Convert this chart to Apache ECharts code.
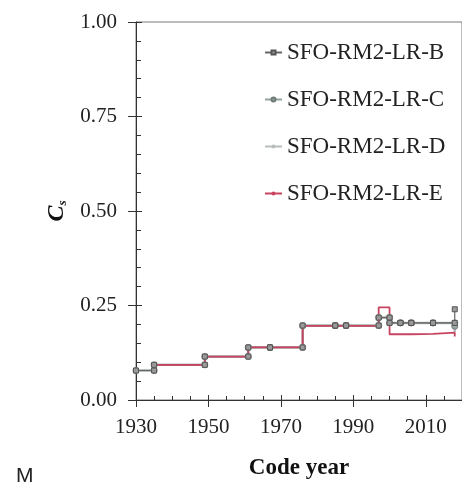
<!DOCTYPE html>
<html>
<head>
<meta charset="utf-8">
<script src="https://cdn.jsdelivr.net/npm/echarts@6/dist/echarts.min.js"></script>
<style>
  html, body { margin: 0; padding: 0; background: #fff; }
  #chart { width: 462px; height: 485px; }
</style>
</head>
<body>
<div id="chart"></div>
<script>
// code years where the coefficient changes
const codeYears = [1930, 1935, 1949, 1961, 1967, 1976, 1985, 1988, 1997, 2000, 2003, 2006, 2012, 2018];
// Cs values
const csB = [0.078, 0.093, 0.115, 0.139, 0.139, 0.197, 0.197, 0.197, 0.218, 0.204, 0.204, 0.204, 0.204, 0.240];
const csC = [0.078, 0.093, 0.115, 0.139, 0.139, 0.197, 0.197, 0.197, 0.218, 0.204, 0.204, 0.204, 0.204, 0.195];
const csD = [0.078, 0.093, 0.115, 0.139, 0.139, 0.197, 0.197, 0.197, 0.218, 0.204, 0.204, 0.204, 0.204, 0.179];
const csE = [null, 0.093, 0.115, 0.139, 0.139, 0.196, 0.196, 0.196, 0.245, 0.174, 0.174, 0.175, 0.178, 0.168];
const seriesNames = ["SFO-RM2-LR-B", "SFO-RM2-LR-C", "SFO-RM2-LR-D", "SFO-RM2-LR-E"];

const serif = "Liberation Serif";

// step line: at each code year keep the old value then jump to the new one
function stepPoints(values) {
  const pts = [];
  let prev = null;
  codeYears.forEach((yr, i) => {
    const v = values[i];
    if (v == null) return;
    if (prev != null) pts.push([yr, prev]);
    pts.push([yr, v]);
    prev = v;
  });
  return pts;
}

const chart = echarts.init(document.getElementById("chart"));

const tickLabel = { color: "#222", fontFamily: serif, fontSize: 21 };

chart.setOption({
  backgroundColor: "#fff",
  animation: false,
  title: {
    text: "M",
    left: 11,
    top: 461,
    textStyle: { fontFamily: "Liberation Sans", fontWeight: "normal", fontSize: 21, color: "#222" },
  },
  grid: {
    left: 136,
    right: -4,
    top: 22,
    bottom: 83,
    show: true,
    borderColor: "#7a7a7a",
    borderWidth: 1,
  },
  legend: {
    data: seriesNames,
    orient: "vertical",
    left: 264,
    top: 41,
    padding: 0,
    itemGap: 24,
    itemWidth: 17,
    itemHeight: 5,
    textStyle: { fontFamily: serif, fontSize: 23, color: "#222" },
  },
  xAxis: [
    {
      type: "value",
      min: 1930,
      max: 2020,
      interval: 20,
      name: "Code year",
      nameLocation: "middle",
      nameGap: 57,
      nameTextStyle: { fontFamily: serif, fontSize: 23, fontWeight: "bold", color: "#111" },
      axisLine: { lineStyle: { color: "#333", width: 1 } },
      axisTick: { show: true, inside: false, length: 7, lineStyle: { color: "#333" } },
      axisLabel: { ...tickLabel, margin: 17, showMaxLabel: false, formatter: (v) => String(v) },
      splitLine: { show: false },
    },
    {
      type: "value",
      min: 1930,
      max: 2020,
      interval: 20,
      position: "bottom",
      axisLine: { show: false },
      axisTick: { show: true, inside: true, length: 5, lineStyle: { color: "#333" } },
      minorTick: { show: true, splitNumber: 4, length: 4, lineStyle: { color: "#333" } },
      axisLabel: { show: false },
      splitLine: { show: false },
    },
  ],
  yAxis: [
    {
      type: "value",
      min: 0,
      max: 1,
      interval: 0.25,
      name: "{c|C}{s|s}",
      nameLocation: "middle",
      nameRotate: 90,
      nameGap: 58,
      nameTextStyle: {
        rich: {
          c: { fontFamily: serif, fontSize: 24, fontStyle: "italic", fontWeight: "bold", color: "#111" },
          s: { fontFamily: serif, fontSize: 13, fontStyle: "italic", fontWeight: "bold", color: "#111", verticalAlign: "bottom", padding: [12, 0, 0, 0] },
        },
      },
      axisLine: { show: true, lineStyle: { color: "#333", width: 1 } },
      axisTick: { show: true, inside: false, length: 8, lineStyle: { color: "#333" } },
      axisLabel: { ...tickLabel, margin: 19, formatter: (v) => v.toFixed(2) },
      splitLine: { show: false },
    },
    {
      type: "value",
      min: 0,
      max: 1,
      interval: 0.25,
      position: "left",
      axisLine: { show: false },
      axisTick: { show: true, inside: true, length: 6, lineStyle: { color: "#333" } },
      minorTick: { show: true, splitNumber: 5, length: 5, lineStyle: { color: "#333" } },
      axisLabel: { show: false },
      splitLine: { show: false },
    },
  ],
  series: [
    {
      name: seriesNames[2],
      type: "line",
      data: stepPoints(csD),
      symbol: "none",
      lineStyle: { color: "#b9bdbc", width: 2.5 },
      itemStyle: { color: "#b9bdbc" },
    },
    {
      name: seriesNames[1],
      type: "line",
      data: stepPoints(csC),
      symbol: "circle",
      symbolSize: 6,
      lineStyle: { color: "#93a39f", width: 1.5 },
      itemStyle: { color: "#9aa7a4", borderColor: "#6f7b78", borderWidth: 1 },
    },
    {
      name: seriesNames[0],
      type: "line",
      data: stepPoints(csB),
      symbol: "rect",
      symbolSize: 5,
      lineStyle: { color: "#666", width: 1.2 },
      itemStyle: { color: "#9a9a9a", borderColor: "#555", borderWidth: 1 },
    },
    {
      name: seriesNames[3],
      type: "line",
      data: stepPoints(csE),
      symbol: "none",
      lineStyle: { color: "#c8435f", width: 1.8 },
      itemStyle: { color: "#c8435f" },
    },
  ],
});
</script>
</body>
</html>
